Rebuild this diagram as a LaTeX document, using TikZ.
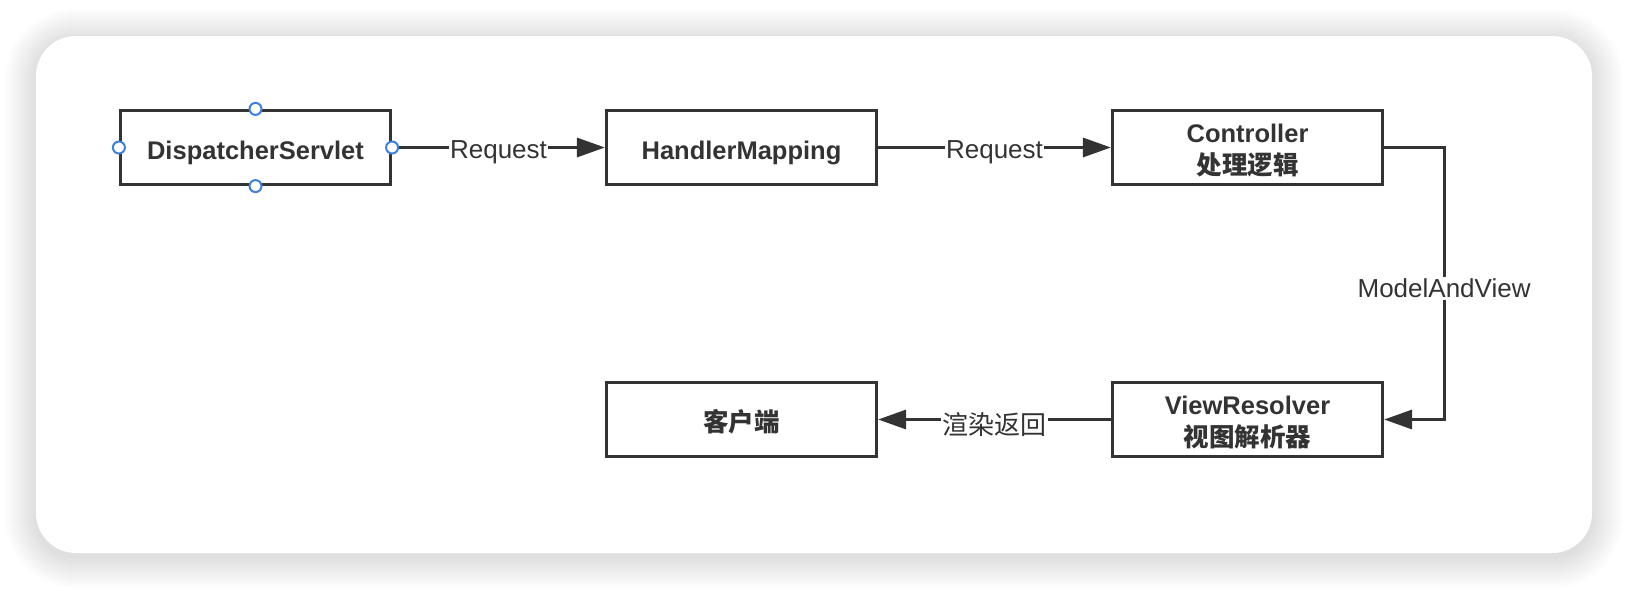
\documentclass[tikz,border=0pt]{standalone}
\usepackage{fontspec}
\setmainfont{Liberation Sans}
\newfontfamily\cjk{Noto Sans CJK SC}[Scale=1.0]
\usepackage{xcolor}
\usepackage{tikz}
\usetikzlibrary{arrows.meta, positioning}
\definecolor{ink}{HTML}{333333}
\definecolor{handleblue}{HTML}{3B7FE3}

\begin{document}
\begin{tikzpicture}[
        x=1pt, y=-1pt,
        box/.style={rectangle, draw=ink, line width=3.2pt, fill=white,
            minimum width=270pt, minimum height=74pt, align=center, text=ink,
            text height=23pt, text depth=0pt,
            font=\fontsize{25.5}{32}\selectfont\bfseries},
        twoline/.style={text height=56pt, text depth=3pt},
        lbl/.style={fill=white, inner sep=1.5pt, text=ink, yshift=-5pt,
            font=\fontsize{26}{30}\selectfont},
        link/.style={draw=ink, line width=3.2pt, -{Triangle[length=28pt, width=19pt]}},
        handle/.style={circle, draw=handleblue, line width=2pt, fill=white,
            minimum size=12pt, inner sep=0pt}
    ]
    \useasboundingbox (0,0) rectangle (1628,590);

    % Card with soft shadow
    \foreach \i in {1,...,32}
        \fill[black, opacity=0.005, rounded corners={(40+\i)*1pt}]
            (36-\i,40-\i) rectangle (1592+\i,557+\i);
    \fill[white, rounded corners=40pt] (36,36) rectangle (1592,553);

    % Nodes for the request flow
    \node[box] (ds) at (255.5,147.5) {DispatcherServlet};
    \node[box] (hm) at (741.5,147.5) {HandlerMapping};
    \node[box, twoline] (ctl) at (1247.5,147.5) {Controller\\{\cjk 处理逻辑}};
    \node[box, twoline] (vr) at (1247.5,419.5) {ViewResolver\\{\cjk 视图解析器}};
    \node[box] (client) at (741.5,419.5) {\cjk 客户端};

    % Edges for the request flow
    \draw[link] (ds) -- node[lbl] {Request} (hm);
    \draw[link] (hm) -- node[lbl] {Request} (ctl);
    \draw[link] (ctl.east) -- ++(60,0) |- node[lbl, pos=0.25] {ModelAndView} (vr.east);
    \draw[link] (vr) -- node[lbl] {\cjk 渲染返回} (client);

    % Selection handles
    \foreach \a in {north, south, east, west}
        \node[handle] (ds-\a) at (ds.\a) {};

\end{tikzpicture}
\end{document}
